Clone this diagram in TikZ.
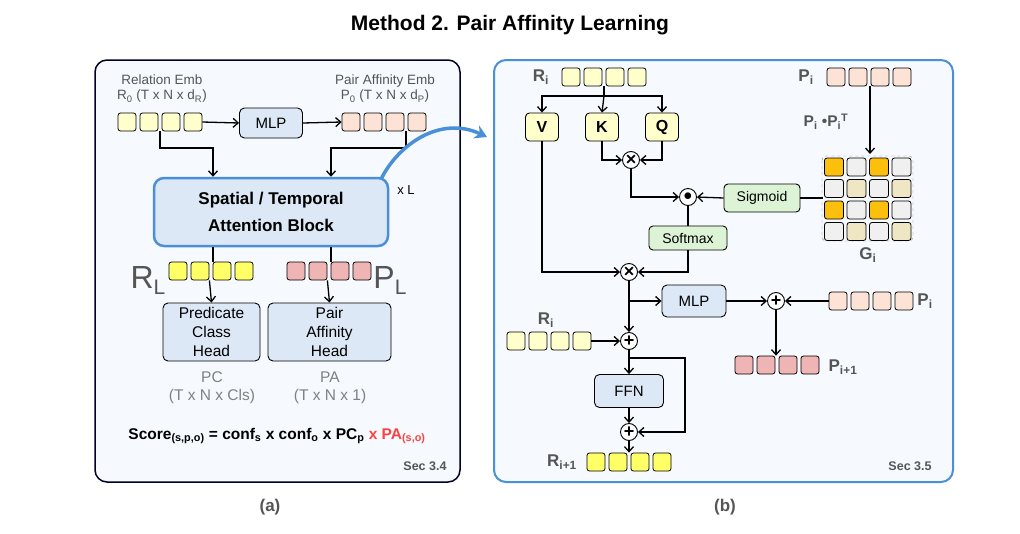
\documentclass[tikz,border=0pt]{standalone}
\usepackage{fontspec}
\setmainfont{Liberation Sans}
\usetikzlibrary{arrows.meta,positioning,calc}
\definecolor{cy}{HTML}{FFFFCC}
\definecolor{cyb}{HTML}{FFFF66}
\definecolor{cp}{HTML}{FDE2D6}
\definecolor{cpd}{HTML}{EFB4B4}
\definecolor{bx}{HTML}{DCE8F5}
\definecolor{gr}{HTML}{DDF3D6}
\definecolor{bl}{HTML}{4A90D9}
\definecolor{og}{HTML}{FBBF0E}
\definecolor{lg}{HTML}{F0F0F0}
\definecolor{tn}{HTML}{EFE6C3}
\definecolor{tg}{HTML}{555555}
\definecolor{pf}{HTML}{F6F9FD}
\newcommand{\sbs}[1]{\textsubscript{#1}}
\newcommand{\sps}[1]{\textsuperscript{#1}}
\tikzset{
 cell/.style={draw,rounded corners=2.5pt,minimum width=18pt,minimum height=18pt,inner sep=0pt,line width=0.8pt},
 bbox/.style={draw,rounded corners=5pt,fill=bx,line width=0.9pt,align=center,font=\fontsize{15}{17}\selectfont},
 gbox/.style={draw,rounded corners=4pt,fill=gr,line width=0.9pt,font=\fontsize{14}{16}\selectfont},
 qbox/.style={draw,rounded corners=4pt,fill=cy,line width=0.9pt,minimum width=33pt,minimum height=28pt,font=\bfseries\fontsize{16}{18}\selectfont},
 op/.style={draw,circle,fill=white,minimum size=17pt,inner sep=0pt,line width=0.9pt,font=\bfseries\fontsize{18}{18}\selectfont},
 ar/.style={line width=1.3pt,-{Straight Barb[length=5pt,width=9pt]}},
 ln/.style={line width=1.3pt},
 lab/.style={font=\bfseries\fontsize{17}{19}\selectfont,text=tg},
 small/.style={font=\fontsize{13.5}{15}\selectfont,text=tg},
}
\newcommand{\cellrow}[5]{% name, x0, y, color, spacing
 \foreach \k in {1,...,4}{\node[cell,fill=#4] (#1\k) at ({#2+(\k-1)*#5},#3) {};}}
\begin{document}
\begin{tikzpicture}[x=1pt,y=-1pt]
\useasboundingbox (0,0) rectangle (1020,533);
\node[font=\bfseries\fontsize{21}{23}\selectfont] (title) at (510,25) {Method 2. Pair Affinity Learning};
% panels
\draw[line width=1.5pt,draw=black!85!blue,fill=pf,rounded corners=12pt] (95,60) rectangle (460,482);
\draw[line width=2pt,draw=bl,fill=pf,rounded corners=12pt] (494,60) rectangle (953,482);
\node[font=\bfseries\fontsize{17}{19}\selectfont,text=tg] (la) at (270,507) {(a)};
\node[font=\bfseries\fontsize{17}{19}\selectfont,text=tg] (lb) at (725,507) {(b)};
% ---------- left
\node[small,align=center] (relt) at (162,89) {Relation Emb\\R\sbs{0} (T x N x d\sbs{R})};
\node[small,align=center] (pat) at (385,89) {Pair Affinity Emb\\P\sbs{0} (T x N x d\sbs{P})};
\cellrow{r}{127}{122}{cy}{22}
\cellrow{p}{351}{122}{cp}{22}
\node[bbox,minimum width=63pt,minimum height=30pt] (mlp1) at (271,123) {MLP};
\draw[ar] (r4.east) -- (mlp1.west);
\draw[ar] (mlp1.east) -- (p1.west);
\node[draw=bl,line width=2.5pt,rounded corners=10pt,fill=bx,minimum width=234pt,minimum height=68pt,align=center,font=\bfseries\fontsize{17}{27}\selectfont] (att) at (271,212) {Spatial / Temporal\\Attention Block};
\node[font=\fontsize{13}{15}\selectfont] (xl) at (406,190) {x L};
\draw[ar] ($(r3.south)!0.5!(r2.south)+(0,0)$) ++(0,0) coordinate (rs) -- (rs|-0,148) -| ($(att.north)+(-58,0)$);
\draw[ar] ($(p3.south)!0.5!(p4.south)$) coordinate (ps) -- (ps|-0,148) -| ($(att.north)+(60,0)$);
\cellrow{rl}{178}{271}{cyb}{22}
\cellrow{pl}{296}{271}{cpd}{22}
\node[font=\fontsize{32}{32}\selectfont,text=tg] (rlt) at (148,280) {R\raisebox{-6pt}{\fontsize{21}{21}\selectfont L}};
\node[font=\fontsize{32}{32}\selectfont,text=tg] (plt) at (390,280) {P\raisebox{-6pt}{\fontsize{21}{21}\selectfont L}};
\draw[ln] ($(att.south)+(-58,0)$) -- ++(0,15);
\draw[ln] ($(att.south)+(60,0)$) -- ++(0,15);
\node[bbox,minimum width=97pt,minimum height=58pt,font=\fontsize{15.5}{19}\selectfont] (pch) at (211.5,332) {Predicate\\Class\\Head};
\node[bbox,minimum width=123pt,minimum height=58pt,font=\fontsize{15.5}{19}\selectfont] (pah) at (329.5,332) {Pair\\Affinity\\Head};
\draw[ar] (rl2.south east) ++(0,0) -- (pch.north);
\draw[ar] (pl2.south east) ++(0,0) -- (pah.north);
\node[font=\fontsize{15.5}{18}\selectfont,text=gray,align=center] (pct) at (212,388) {PC\\(T x N x Cls)};
\node[font=\fontsize{15.5}{18}\selectfont,text=gray,align=center] (pat2) at (330,388) {PA\\(T x N x 1)};
\node[font=\bfseries\fontsize{15.5}{17}\selectfont] (score) at (277,436) {Score\sbs{(s,p,o)} = conf\sbs{s} x conf\sbs{o} x PC\sbs{p} \textcolor{red!75}{x PA\sbs{(s,o)}}};
\node[font=\bfseries\fontsize{12.5}{14}\selectfont,text=tg] (s34) at (425,466) {Sec 3.4};
\coordinate (bend) at (487,137);
\draw[bl,line width=3.5pt,-{Stealth[length=12pt,width=14pt]}] ($(att.north east)+(-8,2)$) .. controls (398,145) and (440,115) .. (bend);
% ---------- right
\node[lab] (ri) at (541,77) {R\sbs{i}};
\cellrow{ri}{571}{77}{cy}{22}
\node[lab] (pi) at (806,77) {P\sbs{i}};
\cellrow{pi}{836}{77}{cp}{22}
\node[qbox] (V) at (542,127) {V};
\node[qbox] (K) at (602,127) {K};
\node[qbox] (Q) at (662,127) {Q};
\coordinate (rib) at ($(ri2.south)!0.5!(ri3.south)$);
\draw[ln] (rib) -- (rib|-0,96) coordinate (rim);
\draw[ar] (rim) -| (V.north);
\draw[ar] (rim) -| (Q.north);
\draw[ar] (rim) -- (K.north);
\node[op] (m1) at (631,160) {×};
\draw[ar] (K.south) |- (m1.west);
\draw[ar] (Q.south) |- (m1.east);
\node[op] (od) at (688,197) {$\bullet$};
\draw[ar] (m1.south) |- (od.west);
\node[gbox,minimum width=76pt,minimum height=28pt] (sig) at (762,198) {Sigmoid};
\draw[ar] (sig.west) -- (od.east);
\node[gbox,minimum width=78pt,minimum height=24pt] (soft) at (688,238) {Softmax};
\draw[ln] (od.south) -- (soft.north);
\node[op] (m2) at (629,272) {×};
\draw[ar] (soft.south) |- (m2.east);
\draw[ar] (V.south) |- (m2.west);
% grid
\draw[dashed,draw=gray,rounded corners=4pt] (822,156) rectangle (913,241);
\foreach \row/\cols in {0/{og,lg,og,lg},1/{lg,tn,lg,tn},2/{og,lg,og,lg},3/{lg,tn,lg,tn}}{
 \foreach \c [count=\j from 0] in \cols {
  \node[cell,fill=\c,minimum width=19pt,minimum height=18pt] (g\row\j) at ({834+\j*22.5},{167+\row*21.5}) {};}}
\draw[ln] (g20.west |- sig) ++(-1,0) -- (sig.east);
\coordinate (pib) at ($(pi2.south)!0.5!(pi3.south)+(1,0)$);
\draw[ar] (pib) -- (pib|-0,154);
\node[font=\bfseries\fontsize{15.5}{17}\selectfont,text=tg,inner sep=1pt] (ppt) at (826,122) {P\sbs{i} •P\sbs{i}\sps{T}};
\node[lab] (gi) at (868,255) {G\sbs{i}};
% lower
\node[bbox,minimum width=64pt,minimum height=32pt] (mlp2) at (694,301) {MLP};
\node[op] (pl1) at (776,301) {+};
\cellrow{pii}{838}{301}{cp}{22}
\node[lab] (pit) at (925,301) {P\sbs{i}};
\draw[ar] (pii1.west) -- (pl1.east);
\draw[ar] (mlp2.east) -- (pl1.west);
\cellrow{pn}{744}{365}{cpd}{22}
\node[lab] (pnt) at (843,367) {P\sbs{i+1}};
\draw[ar] (pl1.south) -- (pl1|-pn1.north);
\node[op] (pr) at (629,341) {+};
\draw[ar] (m2.south) -- (pr.north);
\draw[ar] (m2|-mlp2) -- (mlp2.west);
\node[lab] (ri2t) at (546,320) {R\sbs{i}};
\cellrow{rii}{516}{341}{cy}{22}
\draw[ar] (rii4.east) -- (pr.west);
\node[bbox,minimum width=69pt,minimum height=33pt] (ffn) at (629,391) {FFN};
\node[op] (pr2) at (629,432) {+};
\draw[ar] (pr.south) -- (ffn.north);
\draw[ar] (ffn.south) -- (pr2.north);
\draw[ar] ($(pr.south)+(0,8)$) -| (685,432) -- (pr2.east);
\cellrow{rn}{596}{462}{cyb}{22}
\node[lab] (rnt) at (562,462) {R\sbs{i+1}};
\draw[ar] (pr2.south) -- (pr2|-rn1.north);
\node[font=\bfseries\fontsize{12.5}{14}\selectfont,text=tg] (s35) at (910,466) {Sec 3.5};
\end{tikzpicture}
\end{document}
